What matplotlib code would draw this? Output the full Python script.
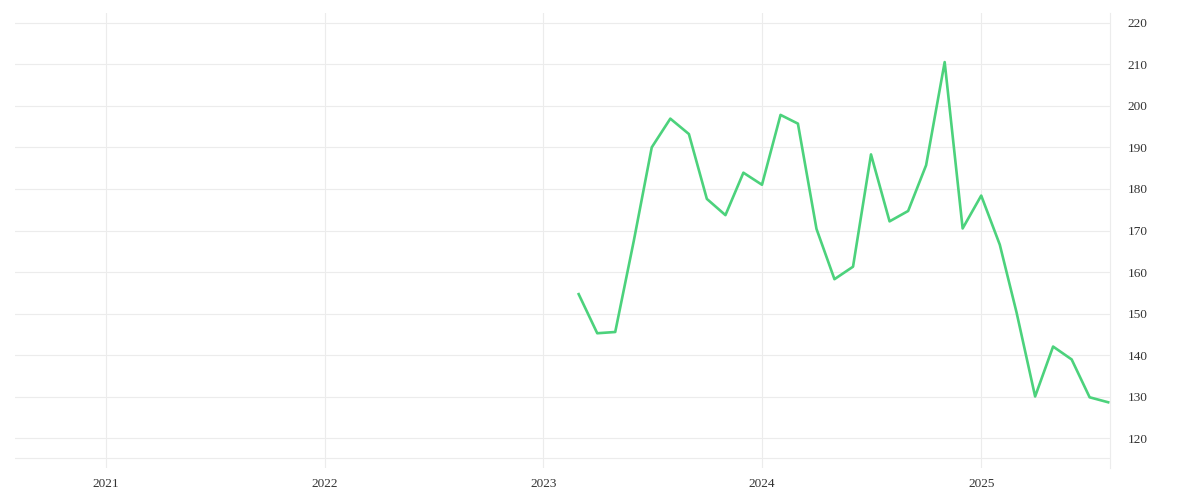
import matplotlib
matplotlib.use("Agg")
import matplotlib.pyplot as plt
import pandas as pd

# monthly values, Mar 2023 .. Aug 2025
months = pd.date_range("2023-03-01", "2025-08-01", freq="MS")
values = [154.7, 145.3, 145.6, 167.5, 190.0, 196.9, 193.2, 177.6, 173.7, 183.9,
          181.0, 197.8, 195.7, 170.4, 158.3, 161.3, 188.3, 172.2, 174.7, 185.7,
          210.5, 170.5, 178.4, 166.6, 150.3, 130.1, 142.1, 139.0, 129.9, 128.7]
year_ticks = pd.to_datetime(["2021-01-01", "2022-01-01", "2023-01-01", "2024-01-01", "2025-01-01"])
year_labels = ["2021", "2022", "2023", "2024", "2025"]
y_ticks = list(range(120, 221, 10))

grid_col = "#ececec"
line_col = "#4cd27c"

fig = plt.figure(figsize=(12, 5), dpi=100)
ax = fig.add_axes([15 / 1200, 1 - 468 / 500, 1095 / 1200, 455 / 500])

ax.plot(months, values, color=line_col, linewidth=1.9)

ax.set_xlim(pd.Timestamp("2020-08-02"), pd.Timestamp("2025-08-04"))
ax.set_ylim(112.9, 222.3)

ax.set_xticks(year_ticks)
ax.set_xticklabels(year_labels)
ax.set_yticks(y_ticks)
ax.yaxis.tick_right()

# light grid, plus the extra line near the bottom
ax.grid(True, color=grid_col, linewidth=0.8)
ax.axhline(115.3, color=grid_col, linewidth=0.8, zorder=0)
ax.set_axisbelow(True)

for side in ["top", "left", "bottom"]:
    ax.spines[side].set_visible(False)
ax.spines["right"].set_color(grid_col)
ax.spines["right"].set_linewidth(0.8)

ax.tick_params(axis="both", length=0, labelsize=9.5, labelcolor="#333333")
ax.tick_params(axis="y", pad=12.5)
ax.tick_params(axis="x", pad=7.5)
for lab in ax.get_xticklabels() + ax.get_yticklabels():
    lab.set_family("Liberation Serif")

fig.savefig("out.png", dpi=100)
